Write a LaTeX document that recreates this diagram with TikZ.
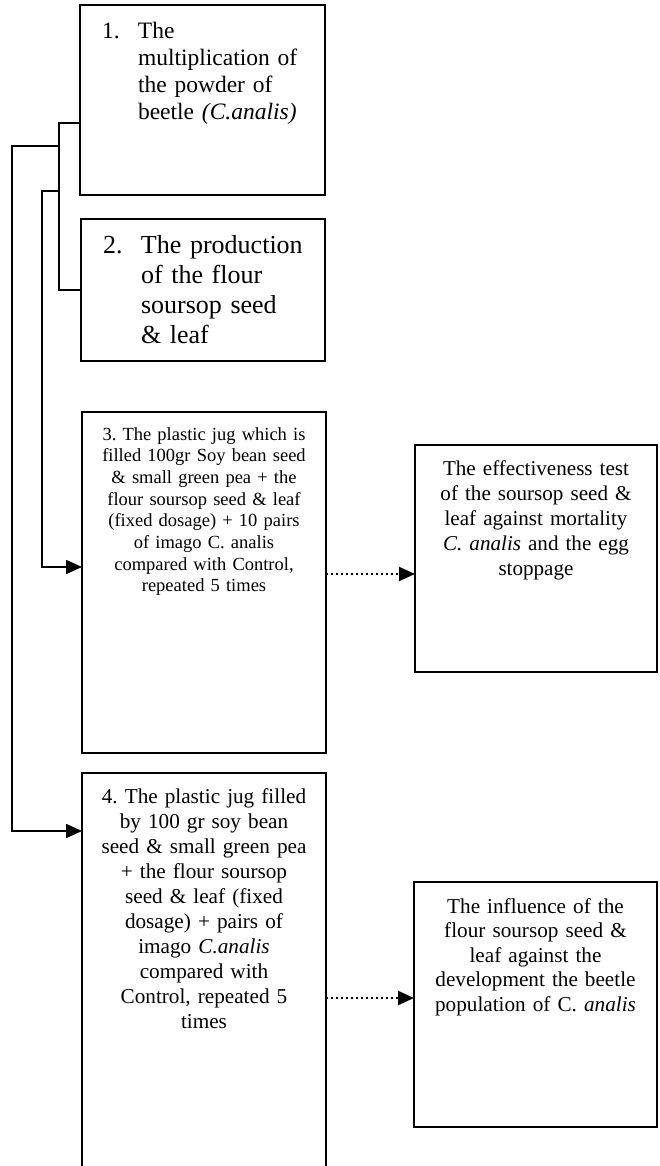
\documentclass[tikz,border=0pt]{standalone}
\usepackage{fontspec}
\setmainfont{Liberation Serif}
\usetikzlibrary{positioning,arrows.meta}

\tikzset{
  stepbox/.style={draw,line width=1.6pt,inner xsep=0pt,inner ysep=0pt,outer sep=0pt,
    anchor=north west,align=center},
  link/.style={line width=1.7pt},
  flow/.style={link,-{Triangle[length=16pt,width=14pt]}},
  dotflow/.style={flow,line width=2pt,dash pattern=on 2pt off 3pt}
}

\begin{document}
\frenchspacing
\begin{tikzpicture}[x=1pt,y=-1pt]
  \useasboundingbox (0,0) rectangle (660,1166);
  % left column
  \node[stepbox,align=left,text width=245pt,text height=34pt,text depth=156pt,
    font=\fontsize{23.5}{26.7}\selectfont] (b1) at (80,5)
    {\hspace*{22pt}\makebox[36pt][l]{1.}\parbox[t]{185pt}{The\\
     multiplication of\\the powder of\\beetle \textit{(C.analis)}}};
  \node[stepbox,align=left,text width=244pt,text height=34pt,text depth=108pt,
    font=\fontsize{26}{30}\selectfont] (b2) at (81,219)
    {\hspace*{22pt}\makebox[38pt][l]{2.}\parbox[t]{182pt}{The production\\
     of the flour\\soursop seed\\\& leaf}};
  \node[stepbox,text width=244pt,text height=28pt,text depth=313pt,
    font=\fontsize{18.5}{21.7}\selectfont] (b3) at (82,412)
    {3. The plastic jug which is\\filled 100gr Soy bean seed\\\& small green pea + the\\
     flour soursop seed \& leaf\\(fixed dosage) + 10 pairs\\of imago C. analis\\
     compared with Control,\\repeated 5 times};
  \node[stepbox,text width=244pt,text height=30pt,text depth=372pt,
    font=\fontsize{21.2}{25}\selectfont] (b4) at (82,773)
    {4. The plastic jug filled\\by 100 gr soy bean\\seed \& small green pea\\
     + the flour soursop\\seed \& leaf (fixed\\dosage) + pairs of\\imago \textit{C.analis}\\
     compared with\\Control, repeated 5\\times};
  % right column
  \node[stepbox,text width=242pt,text height=30pt,text depth=197pt,
    font=\fontsize{21.1}{25}\selectfont] (rA) at (415,445)
    {The effectiveness test\\of the soursop seed \&\\leaf against mortality\\
     \textit{C. analis} and the egg\\stoppage};
  \node[stepbox,text width=243pt,text height=31pt,text depth=214pt,
    font=\fontsize{21.2}{24.5}\selectfont] (rB) at (414,882)
    {The influence of the\\flour soursop seed \&\\leaf against the\\
     development the beetle\\population of C. \textit{analis}};

  % connectors
  \coordinate (s4) at (59,146);
  \coordinate (s3) at (59,191);
  \draw[link] ([yshift=-23pt]b1.west) -- ++(-21,0) |- (b2.west);
  \draw[flow] (s4) -- ++(-47,0) |- ([yshift=-58pt]b4.north west);
  \draw[flow] (s3) -- ++(-17,0) |- ([yshift=-155pt]b3.north west);
  \draw[dotflow] ([yshift=-162pt]b3.north east) coordinate (d3) -- (d3 -| rA.west);
  \draw[dotflow] ([yshift=-225pt]b4.north east) coordinate (d4) -- (d4 -| rB.west);
\end{tikzpicture}
\end{document}
